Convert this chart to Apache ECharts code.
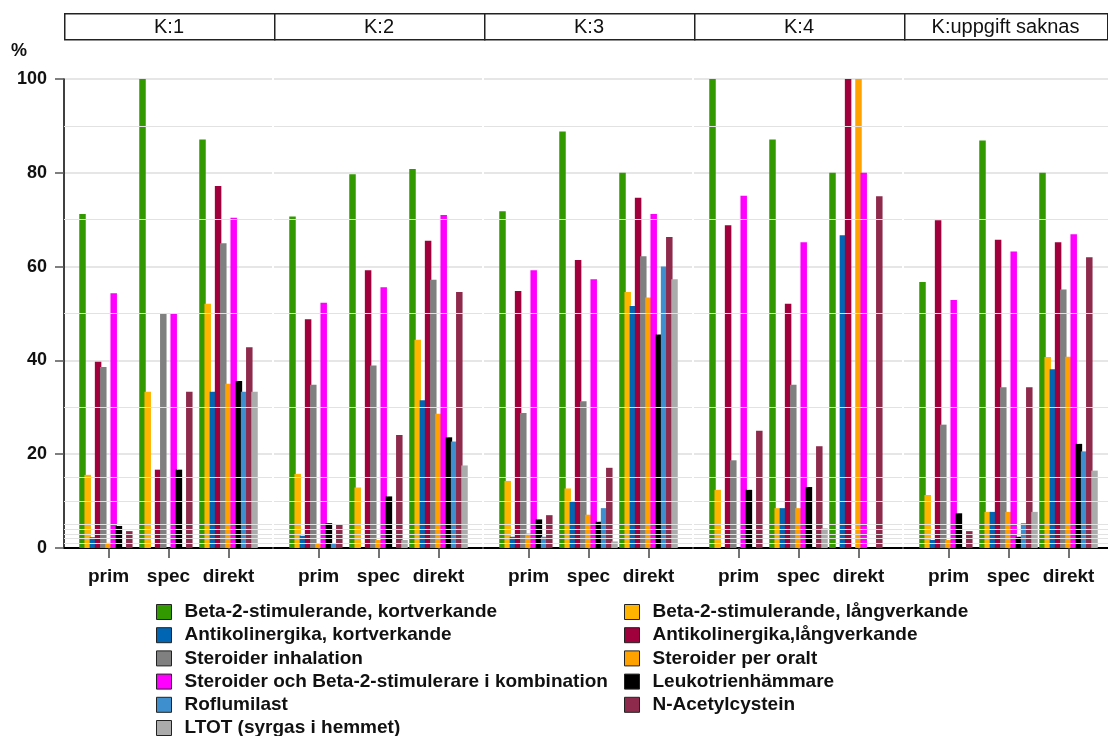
<!DOCTYPE html>
<html><head><meta charset="utf-8">
<script src="https://cdn.jsdelivr.net/npm/echarts@6/dist/echarts.min.js"></script>
<style>html,body{margin:0;padding:0;background:#fff}#c{width:1108px;height:736px}</style>
</head><body><div id="c"></div>
<script>
// ---------- DATA ----------
const panels = ['K:1', 'K:2', 'K:3', 'K:4', 'K:uppgift saknas'];
const groups = ['prim', 'spec', 'direkt'];
const seriesNames = [
  'Beta-2-stimulerande, kortverkande',
  'Beta-2-stimulerande, långverkande',
  'Antikolinergika, kortverkande',
  'Antikolinergika,långverkande',
  'Steroider inhalation',
  'Steroider per oralt',
  'Steroider och Beta-2-stimulerare i kombination',
  'Leukotrienhämmare',
  'Roflumilast',
  'N-Acetylcystein',
  'LTOT (syrgas i hemmet)'
];
const seriesColors = ['#339900', '#FFB400', '#0066B3', '#A0003C', '#808080', '#FFA200',
  '#FF00FF', '#000000', '#3E8FCE', '#8E2B4C', '#ABABAB'];
// values per panel: [prim, spec, direkt]
const beta2Kort      = [[71.2, 100, 87.1], [70.7, 79.7, 80.8], [71.8, 88.8, 80.0], [100, 87.1, 80.0], [56.7, 86.9, 80.0]];
const beta2Lang      = [[15.6, 33.3, 52.1], [15.8, 12.9, 44.4], [14.3, 12.7, 54.6], [12.4, 8.5, 0], [11.3, 7.7, 40.7]];
const antikolKort    = [[2.3, 0, 33.3], [2.6, 0, 31.5], [2.4, 9.9, 51.6], [0, 8.5, 66.7], [1.7, 7.7, 38.1]];
const antikolLang    = [[39.7, 16.7, 77.2], [48.8, 59.2, 65.5], [54.8, 61.4, 74.7], [68.8, 52.1, 100], [69.9, 65.7, 65.2]];
const steroiderInh   = [[38.6, 50.0, 65.0], [34.8, 38.9, 57.2], [28.8, 31.3, 62.2], [18.7, 34.8, 0], [26.3, 34.3, 55.1]];
const steroiderOralt = [[1.1, 0, 35.0], [0.9, 1.7, 28.6], [3.1, 7.1, 53.4], [0, 8.5, 100], [1.7, 7.7, 40.8]];
const steroiderKomb  = [[54.3, 50.0, 70.4], [52.3, 55.6, 71.0], [59.2, 57.3, 71.2], [75.1, 65.2, 80.0], [52.9, 63.2, 66.9]];
const leukotrien     = [[4.7, 16.7, 35.6], [5.3, 11.0, 23.6], [6.1, 5.6, 45.5], [12.4, 13.0, 0], [7.4, 2.4, 22.2]];
const roflumilast    = [[0, 0, 33.3], [0.9, 0, 22.7], [2.4, 8.5, 60.0], [0, 0, 0], [0, 5.3, 20.6]];
const nAcetyl        = [[3.6, 33.3, 42.8], [5.1, 24.1, 54.6], [7.0, 17.1, 66.3], [25.0, 21.7, 75.0], [3.6, 34.3, 62.0]];
const ltot           = [[0, 0, 33.3], [0, 1.7, 17.6], [0, 1.4, 57.3], [0, 4.2, 0], [0, 7.7, 16.5]];
const extraGridValues = [1, 2, 3, 4, 5, 10, 15, 30, 50, 70, 90];

const seriesData = [beta2Kort, beta2Lang, antikolKort, antikolLang, steroiderInh, steroiderOralt,
  steroiderKomb, leukotrien, roflumilast, nAcetyl, ltot];

// ---------- LAYOUT ----------
const FONT = '"Liberation Sans", Arial, sans-serif';
const panelLeft = [64, 274, 484, 694, 904];
const panelWidth = [208, 208, 208, 208, 204];
const TOP = 79, BOTTOM = 188;

const grid = [], xAxis = [], yAxis = [], series = [];
panels.forEach((p, i) => {
  grid.push({ left: panelLeft[i], top: TOP, width: panelWidth[i], bottom: BOTTOM });
  grid.push({ left: panelLeft[i] + 14.5, top: TOP, width: 180, bottom: BOTTOM });
  xAxis.push({
    gridIndex: 2 * i, type: 'category', data: [''],
    axisLine: { show: true, lineStyle: { color: '#000', width: 2 } },
    axisTick: { show: false }, axisLabel: { show: false }, splitLine: { show: false }
  });
  xAxis.push({
    gridIndex: 2 * i + 1, type: 'category', data: groups,
    axisLine: { show: false },
    axisTick: { show: true, alignWithLabel: true, length: 10, lineStyle: { color: '#444', width: 1.5 } },
    axisLabel: { interval: 0, hideOverlap: false, fontSize: 19, fontWeight: 'bold', color: '#111', margin: 19, fontFamily: FONT },
    splitLine: { show: false }
  });
  yAxis.push({
    gridIndex: 2 * i, type: 'value', min: 0, max: 100, interval: 20,
    splitLine: { show: true, lineStyle: { color: '#dedede', width: 1.5 } },
    axisLine: { show: i === 0, lineStyle: { color: '#000', width: 1.5 } },
    axisTick: { show: i === 0, length: 9, lineStyle: { color: '#555', width: 1.5 } },
    axisLabel: { show: i === 0, fontSize: 18, fontWeight: 'bold', color: '#111', margin: 17, fontFamily: FONT }
  });
  yAxis.push({ gridIndex: 2 * i + 1, type: 'value', min: 0, max: 100, show: false, splitLine: { show: false } });

  series.push({
    type: 'line', xAxisIndex: 2 * i, yAxisIndex: 2 * i, data: [], silent: true, z: 1,
    markLine: {
      silent: true, symbol: 'none', label: { show: false }, animation: false,
      lineStyle: { color: '#e2e2e2', type: 'solid', width: 1 },
      data: extraGridValues.map(v => ({ yAxis: v }))
    }
  });
  seriesNames.forEach((name, s) => {
    series.push({
      type: 'bar', name: name, xAxisIndex: 2 * i + 1, yAxisIndex: 2 * i + 1,
      data: seriesData[s][i], barWidth: 6.5, barGap: '-20%',
      itemStyle: { color: seriesColors[s] }
    });
  });
});

const legendCommon = {
  orient: 'vertical', itemWidth: 15, itemHeight: 15, itemGap: 4.2, icon: 'rect',
  selectedMode: false, padding: 0,
  itemStyle: { borderColor: '#222', borderWidth: 1 },
  textStyle: { fontSize: 19, fontWeight: 'bold', color: '#111', fontFamily: FONT, padding: [0, 0, 0, 8] }
};
const LEG_TOP = 602.5, ROW = 23.2;

const graphic = [];
panels.forEach((p, i) => {
  const w = i === panels.length - 1 ? 1107 - panelLeft[i] : 210;
  graphic.push({ type: 'rect', left: panelLeft[i], top: 13, shape: { width: w, height: 26 },
    style: { fill: '#fff', stroke: '#222', lineWidth: 1.5 } });
  graphic.push({ type: 'text', x: panelLeft[i] + w / 2, y: 27,
    style: { text: p, fill: '#111', font: '20px ' + FONT, textAlign: 'center', textVerticalAlign: 'middle' } });
});
graphic.push({ type: 'text', left: 11, top: 42, style: { text: '%', fill: '#111', font: 'bold 18px ' + FONT } });

const leftNames = seriesNames.filter((n, k) => k % 2 === 0);
const rightNames = seriesNames.filter((n, k) => k % 2 === 1);

const chart = echarts.init(document.getElementById('c'), null, { renderer: 'canvas' });
chart.setOption({
  animation: false,
  backgroundColor: '#fff',
  grid, xAxis, yAxis, series, graphic,
  legend: [
    Object.assign({ left: 156, top: LEG_TOP, data: leftNames.slice(0, 5) }, legendCommon),
    Object.assign({ left: 156, top: LEG_TOP + 5 * ROW, data: leftNames.slice(5) }, legendCommon),
    Object.assign({ left: 624, top: LEG_TOP, data: rightNames }, legendCommon)
  ]
});
</script></body></html>
